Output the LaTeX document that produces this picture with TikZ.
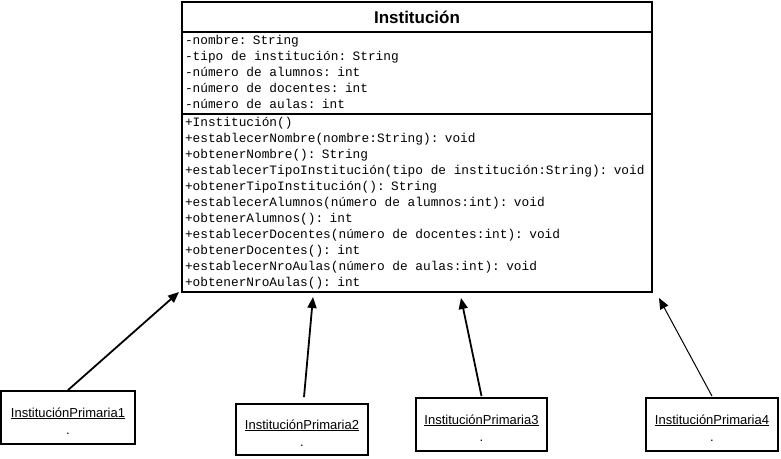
\documentclass[tikz,border=0pt]{standalone}
\usepackage{fontspec}
\setmainfont{Liberation Sans}
\setsansfont{Liberation Sans}
\setmonofont{Liberation Mono}
\usepackage{tikz}
\usetikzlibrary{arrows.meta,positioning,shapes}

\begin{document}
\begin{tikzpicture}[x=1pt, y=1pt,
            line width=1.8pt, % thick borders and lines everywhere
            clase/.style={draw, rectangle, outer sep=0pt, text width=464pt, inner xsep=3pt, inner ysep=1pt}, % one compartment of the class box
            miembros/.style={clase, align=left, font=\ttfamily\fontsize{12.8}{16}\selectfont,
                execute at begin node={\spaceskip=7.68pt\relax\strut}, execute at end node=\strut}, % attributes and methods
            objeto/.style={draw, rectangle, minimum width=132pt, minimum height=53pt, align=center,
                font=\fontsize{13}{17}\selectfont}, % the instances
            herencia/.style={-{Triangle[length=11pt,width=9pt]}}, % arrows to the class
        ]
        \useasboundingbox (0,0) rectangle (781,-458);

        \node (titulo) [clase, align=center, minimum height=30pt, font=\bfseries\fontsize{17}{20}\selectfont] at (417,-17) {Institución};
        \node (atributos) [miembros, below=0pt of titulo] {-nombre: String\\
            -tipo de institución: String\\
            -número de alumnos: int\\
            -número de docentes: int\\
            -número de aulas: int};
        \node (metodos) [miembros, below=0pt of atributos] {+Institución()\\
            +establecerNombre(nombre:String): void\\
            +obtenerNombre(): String\\
            +establecerTipoInstitución(tipo de institución:String): void\\
            +obtenerTipoInstitución(): String\\
            +establecerAlumnos(número de alumnos:int): void\\
            +obtenerAlumnos(): int\\
            +establecerDocentes(número de docentes:int): void\\
            +obtenerDocentes(): int\\
            +establecerNroAulas(número de aulas:int): void\\
            +obtenerNroAulas(): int};

        \node (ip1) [objeto, minimum width=134pt] at (68,-417.5)   {\rule{0pt}{16pt}\underline{InstituciónPrimaria1}\\.};
        \node (ip2) [objeto, minimum height=51pt] at (302,-429.5)  {\rule{0pt}{16pt}\underline{InstituciónPrimaria2}\\.};
        \node (ip3) [objeto, minimum width=131pt] at (481.5,-424.5) {\rule{0pt}{16pt}\underline{InstituciónPrimaria3}\\.};
        \node (ip4) [objeto] at (712,-424.5)                       {\rule{0pt}{16pt}\underline{InstituciónPrimaria4}\\.};

        \draw
        (ip1.north) edge[herencia] ([xshift=-3pt]metodos.south west)
        ([xshift=2pt,yshift=6pt]ip2.north) edge[herencia] ([xshift=-104pt,yshift=-5pt]metodos.south)
        ([yshift=1pt]ip3.north) edge[herencia] ([xshift=44pt,yshift=-6pt]metodos.south)
        ([yshift=1pt]ip4.north) edge[herencia, line width=1pt] ([xshift=7pt,yshift=-6pt]metodos.south east);
    \end{tikzpicture}
\end{document}
